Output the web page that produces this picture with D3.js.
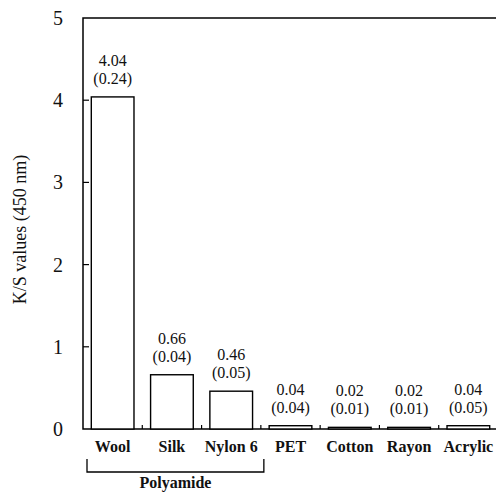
<!DOCTYPE html>
<html>
<head>
<meta charset="utf-8">
<script src="https://cdn.jsdelivr.net/npm/d3@7"></script>
<style>
  body { margin: 0; background: #fff; }
</style>
</head>
<body>
<svg width="496" height="492"></svg>
<script>
// fibre types and their K/S values with standard deviations
var fibres = ["Wool", "Silk", "Nylon 6", "PET", "Cotton", "Rayon", "Acrylic"];
var ksValues = [4.04, 0.66, 0.46, 0.04, 0.02, 0.02, 0.04];
var sdValues = [0.24, 0.04, 0.05, 0.04, 0.01, 0.01, 0.05];
var yTicks = [0, 1, 2, 3, 4, 5];
var groupLabel = "Polyamide";
var groupMembers = ["Wool", "Silk", "Nylon 6"];

var FONT = "Liberation Serif";
var marge = {top: 18, left: 83, bottom: 63};
var svg = d3.select("svg")
    .attr("font-family", FONT)
    .attr("fill", "#111");
var plotW = 415;
var plotH = 492 - marge.top - marge.bottom;

var g = svg.append("g")
    .attr("transform", "translate(" + marge.left + "," + marge.top + ")");

var x = d3.scaleBand().domain(fibres).range([0, plotW]).padding(0);
var y = d3.scaleLinear().domain([0, 5]).range([plotH, 0]);
var barW = x.bandwidth() * 0.72;

// frame: left axis, top line, baseline
g.append("path")
    .attr("d", "M" + (plotW + 10) + ",0H0V" + plotH + "H" + (plotW + 10))
    .attr("fill", "none")
    .attr("stroke", "#000")
    .attr("stroke-width", 1.5);

// y ticks (inside)
g.selectAll(".ytick")
    .data(yTicks.slice(1, 5))
    .enter()
    .append("line")
    .attr("x1", 0)
    .attr("x2", 6)
    .attr("y1", function(d){ return y(d); })
    .attr("y2", function(d){ return y(d); })
    .attr("stroke", "#000")
    .attr("stroke-width", 1.2);

g.selectAll(".ylab")
    .data(yTicks)
    .enter()
    .append("text")
    .attr("x", -20)
    .attr("y", function(d){ return y(d); })
    .attr("dy", "0.35em")
    .attr("text-anchor", "end")
    .attr("font-size", 20)
    .text(function(d){ return d; });

// y axis title
svg.append("text")
    .attr("transform", "translate(26," + (marge.top + plotH / 2 + 6) + ") rotate(-90)")
    .attr("text-anchor", "middle")
    .attr("font-size", 18)
    .text("K/S values (450 nm)");

// small ticks between categories
g.selectAll(".xtick")
    .data(fibres.slice(1))
    .enter()
    .append("line")
    .attr("x1", function(d){ return x(d); })
    .attr("x2", function(d){ return x(d); })
    .attr("y1", plotH)
    .attr("y2", plotH - 4)
    .attr("stroke", "#000")
    .attr("stroke-width", 1.2);

// bars
var rows = fibres.map(function(f, i){ return {name: f, v: ksValues[i], sd: sdValues[i]}; });

g.selectAll(".bar")
    .data(rows)
    .enter()
    .append("rect")
    .attr("x", function(d){ return x(d.name) + (x.bandwidth() - barW) / 2; })
    .attr("y", function(d){ return y(d.v); })
    .attr("width", barW)
    .attr("height", function(d){ return plotH - y(d.v); })
    .attr("fill", "#fff")
    .attr("stroke", "#000")
    .attr("stroke-width", 1.4);

// value labels: mean on top, (sd) below
var labs = g.selectAll(".vlab")
    .data(rows)
    .enter()
    .append("g")
    .attr("transform", function(d){
        return "translate(" + (x(d.name) + x.bandwidth() / 2) + "," + (y(d.v) - 13) + ")";
    });
labs.append("text")
    .attr("y", -18)
    .attr("text-anchor", "middle")
    .attr("font-size", 16)
    .text(function(d){ return d.v.toFixed(2); });
labs.append("text")
    .attr("y", 0)
    .attr("text-anchor", "middle")
    .attr("font-size", 16)
    .text(function(d){ return "(" + d.sd.toFixed(2) + ")"; });

// category labels
g.selectAll(".xlab")
    .data(fibres)
    .enter()
    .append("text")
    .attr("x", function(d){ return x(d) + x.bandwidth() / 2; })
    .attr("y", plotH + 23)
    .attr("text-anchor", "middle")
    .attr("font-size", 16)
    .attr("font-weight", "bold")
    .text(function(d){ return d; });

// polyamide bracket
var bx0 = x(groupMembers[0]) + 4;
var bx1 = x(groupMembers[groupMembers.length - 1]) + x.bandwidth() + 3;
g.append("path")
    .attr("d", "M" + bx0 + "," + (plotH + 30) + "V" + (plotH + 43) + "H" + bx1 + "V" + (plotH + 30))
    .attr("fill", "none")
    .attr("stroke", "#000")
    .attr("stroke-width", 1.3);
g.append("text")
    .attr("x", (bx0 + bx1) / 2)
    .attr("y", plotH + 59)
    .attr("text-anchor", "middle")
    .attr("font-size", 16)
    .attr("font-weight", "bold")
    .text(groupLabel);
</script>
</body>
</html>
